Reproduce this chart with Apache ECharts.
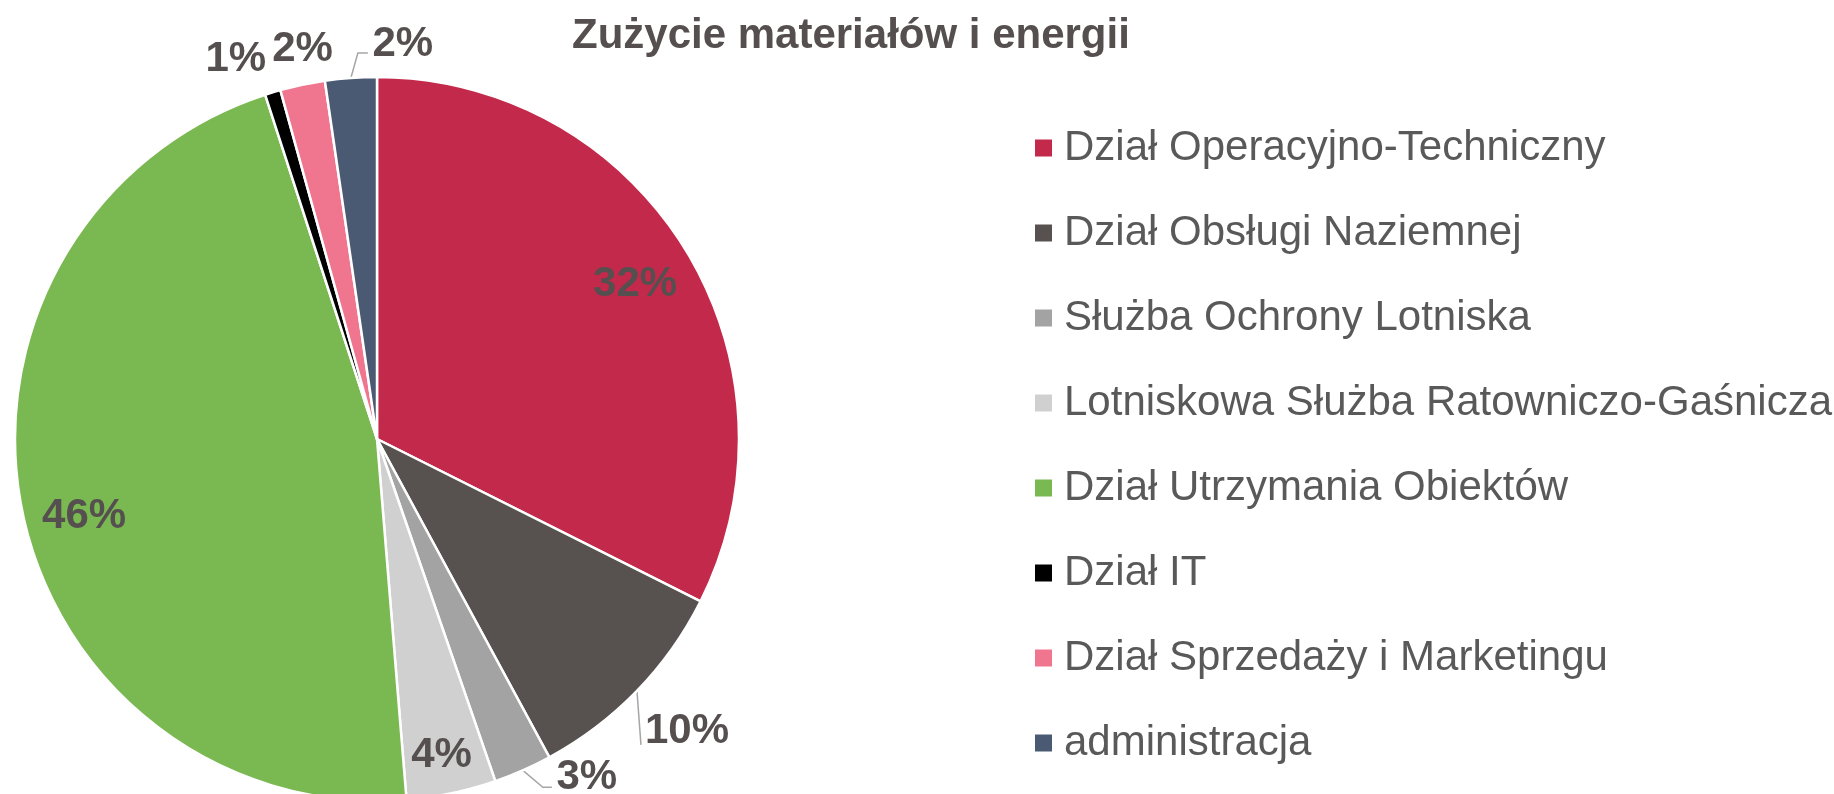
<!DOCTYPE html>
<html>
<head>
<meta charset="utf-8">
<script src="https://cdn.jsdelivr.net/npm/echarts@6/dist/echarts.min.js"></script>
<style>
  html, body { margin: 0; padding: 0; background: #ffffff; }
  #chart { width: 1834px; height: 794px; }
</style>
</head>
<body>
<div id="chart"></div>
<script>
// ---- data ----
const titleText = 'Zużycie materiałów i energii';
const categories = [
  'Dział Operacyjno-Techniczny',
  'Dział Obsługi Naziemnej',
  'Służba Ochrony Lotniska',
  'Lotniskowa Służba Ratowniczo-Gaśnicza',
  'Dział Utrzymania Obiektów',
  'Dział IT',
  'Dział Sprzedaży i Marketingu',
  'administracja'
];
const shares = [32.4, 9.7, 2.6, 4.0, 46.3, 0.7, 2.0, 2.3];

// ---- styles ----
const sliceColors = ['#C3294A', '#575150', '#A3A3A3', '#D0D0D0', '#7AB851', '#000000', '#F0768F', '#4A5A72'];
const FONT = '"Liberation Sans", Arial, Helvetica, sans-serif';
const TEXT_COLOR = '#55504F';
// label placement relative to the library's slice-edge anchor (px)
const labelOffset = [[-50, 36], [50, 41], [64, 7], [-10, -38], [62, 6], [-37, -33], [0, -35], [52, -34]];
// leader-line bends relative to the same anchor (null = no leader)
const leaderBends = [null, [[4, 54], [4, 54]], [[20, 17], [29, 17]], null, null, null, null, [[7, -25], [17, -25]]];

const chart = echarts.init(document.getElementById('chart'), null, { renderer: 'canvas' });

const data = categories.map((name, i) => ({
  name: name,
  value: shares[i],
  itemStyle: { color: sliceColors[i] }
}));

chart.setOption({
  animation: false,
  backgroundColor: '#ffffff',
  title: {
    text: titleText,
    left: 572,
    top: 15,
    padding: 0,
    textStyle: { fontFamily: FONT, fontSize: 42, fontWeight: 'bold', color: TEXT_COLOR }
  },
  legend: {
    orient: 'vertical',
    left: 1033,
    top: 127,
    padding: 0,
    itemWidth: 19,
    itemHeight: 19,
    itemGap: 43,
    icon: 'rect',
    selectedMode: false,
    data: categories,
    textStyle: { fontFamily: FONT, fontSize: 42, color: '#595959', padding: [0, 0, 0, 6] }
  },
  series: [{
    type: 'pie',
    center: [377, 439],
    radius: 362,
    startAngle: 90,
    clockwise: true,
    avoidLabelOverlap: false,
    minShowLabelAngle: 0,
    silent: true,
    itemStyle: { borderColor: '#ffffff', borderWidth: 2.5 },
    label: {
      show: true,
      position: 'outside',
      fontFamily: FONT,
      fontSize: 42,
      fontWeight: 'bold',
      color: TEXT_COLOR,
      formatter: p => Math.round(p.percent) + '%'
    },
    labelLine: {
      show: true,
      length: 20,
      length2: 10,
      lineStyle: { color: '#A6A6A6', width: 1.5 }
    },
    labelLayout: function (p) {
      const i = p.dataIndex;
      const pts = p.labelLinePoints;
      const a = pts && pts.length ? pts[0] : [p.labelRect.x, p.labelRect.y];
      const off = labelOffset[i];
      const res = {
        x: a[0] + off[0],
        y: a[1] + off[1],
        align: 'center',
        verticalAlign: 'middle',
        hideOverlap: false,
        moveOverlap: null
      };
      const bends = leaderBends[i];
      if (bends) {
        res.labelLinePoints = [[a[0], a[1]]].concat(bends.map(b => [a[0] + b[0], a[1] + b[1]]));
      } else {
        res.labelLinePoints = [[a[0], a[1]], [a[0], a[1]], [a[0], a[1]]];
      }
      return res;
    },
    data: data
  }]
});
</script>
</body>
</html>
